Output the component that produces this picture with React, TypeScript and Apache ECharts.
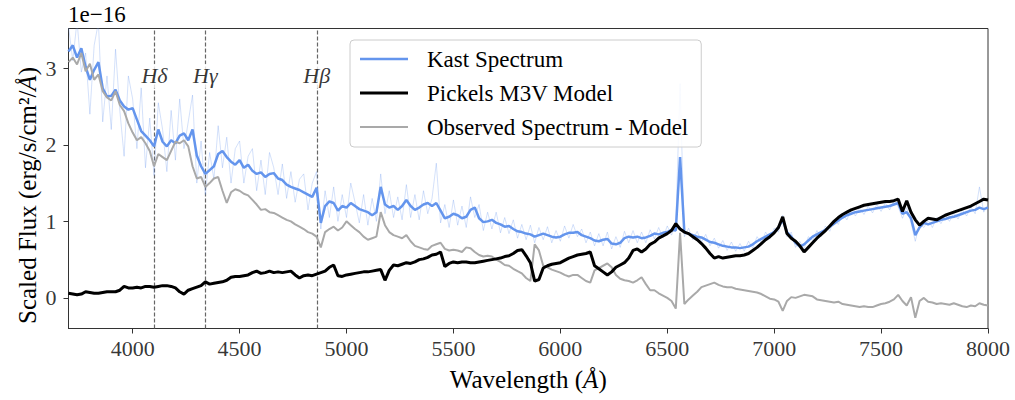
import React, { useEffect, useRef } from "react";
import * as echarts from "echarts";

// Wavelength sampling of the spectra (Angstrom)
const WAVE_START = 3700;
const WAVE_STEP = 20;

// Kast spectrum, smoothed (units of 1e-16 erg/s/cm^2/A)
const kastSmooth = [
  3.22, 3.30, 3.14, 3.26, 3.02, 2.85, 2.98, 3.08, 2.74, 2.63,
  2.64, 2.72, 2.58, 2.50, 2.46, 2.48, 2.33, 2.18, 2.12, 2.06,
  1.98, 2.20, 2.04, 1.98, 2.06, 2.02, 2.12, 2.15, 2.06, 2.20,
  1.86, 1.72, 1.62, 1.67, 1.72, 1.88, 1.92, 1.84, 1.78, 1.74,
  1.80, 1.70, 1.74, 1.66, 1.62, 1.64, 1.58, 1.62, 1.63, 1.56,
  1.54, 1.48, 1.45, 1.43, 1.41, 1.38, 1.35, 1.32, 1.44, 0.98,
  1.20, 1.26, 1.24, 1.14, 1.20, 1.18, 1.24, 1.20, 1.16, 1.14,
  1.12, 1.08, 1.12, 1.45, 1.22, 1.18, 1.20, 1.15, 1.20, 1.28,
  1.20, 1.15, 1.18, 1.22, 1.24, 1.20, 1.24, 1.14, 1.04, 1.06,
  1.10, 1.08, 1.04, 1.06, 1.15, 1.18, 1.04, 0.99, 1.00, 1.02,
  0.98, 0.96, 0.93, 0.94, 0.90, 0.87, 0.86, 0.84, 0.83, 0.80,
  0.82, 0.84, 0.82, 0.80, 0.79, 0.80, 0.83, 0.85, 0.85, 0.86,
  0.82, 0.80, 0.78, 0.75, 0.74, 0.76, 0.77, 0.71, 0.70, 0.72,
  0.78, 0.80, 0.79, 0.80, 0.78, 0.79, 0.81, 0.84, 0.83, 0.85,
  0.86, 0.89, 0.88, 1.84, 0.86, 0.84, 0.82, 0.80, 0.79, 0.76,
  0.73, 0.72, 0.70, 0.68, 0.67, 0.66, 0.66, 0.65, 0.66, 0.67,
  0.70, 0.74, 0.77, 0.80, 0.83, 0.86, 0.92, 1.02, 0.86, 0.80,
  0.72, 0.67, 0.70, 0.75, 0.80, 0.83, 0.86, 0.89, 0.93, 0.97,
  1.01, 1.05, 1.08, 1.10, 1.12, 1.13, 1.14, 1.15, 1.16, 1.17,
  1.18, 1.19, 1.20, 1.22, 1.24, 1.10, 1.12, 1.04, 0.82, 0.92,
  0.98, 0.96, 0.98, 1.00, 1.02, 1.03, 1.05, 1.06, 1.08, 1.10,
  1.12, 1.14, 1.15, 1.18, 1.16, 1.18,
];

// Kast spectrum, unsmoothed (faint)
const kastRaw = [
  3.55, 3.10, 3.62, 2.95, 3.20, 2.40, 3.30, 3.60, 2.30, 2.90,
  2.20, 3.25, 2.45, 1.85, 2.90, 2.60, 1.95, 2.75, 1.70, 2.35,
  1.60, 2.55, 2.20, 1.65, 2.45, 1.80, 2.60, 1.95, 2.30, 2.65,
  1.50, 2.05, 1.35, 1.90, 1.55, 2.25, 1.70, 2.10, 1.50, 1.95,
  2.05, 1.50, 1.85, 1.95, 1.40, 1.80, 1.35, 1.90, 1.70, 1.35,
  1.75, 1.30, 1.65, 1.25, 1.55, 1.62, 1.15, 1.50, 1.65, 0.90,
  1.40, 1.05, 1.45, 1.00, 1.35, 1.05, 1.50, 1.25, 0.98, 1.35,
  0.95, 1.30, 1.00, 1.62, 1.10, 1.40, 1.05, 1.32, 1.02, 1.48,
  1.05, 1.35, 1.02, 1.40, 1.10, 1.30, 1.76, 0.98, 1.22, 0.92,
  1.28, 0.95, 1.20, 0.92, 1.32, 1.05, 1.22, 0.88, 1.12, 0.90,
  1.12, 0.85, 1.05, 0.84, 1.02, 0.78, 0.96, 0.76, 0.95, 0.72,
  0.92, 0.76, 0.93, 0.72, 0.88, 0.74, 0.94, 0.78, 0.96, 0.80,
  0.90, 0.72, 0.86, 0.68, 0.84, 0.68, 0.86, 0.64, 0.80, 0.66,
  0.87, 0.72, 0.88, 0.72, 0.86, 0.72, 0.89, 0.77, 0.92, 0.78,
  0.94, 0.82, 0.96, 2.80, 0.80, 0.91, 0.76, 0.87, 0.73, 0.83,
  0.68, 0.78, 0.65, 0.75, 0.62, 0.73, 0.61, 0.71, 0.61, 0.74,
  0.65, 0.80, 0.72, 0.86, 0.78, 0.91, 0.86, 1.08, 0.80, 0.86,
  0.66, 0.74, 0.64, 0.80, 0.75, 0.88, 0.80, 0.94, 0.87, 1.02,
  0.96, 1.10, 1.02, 1.15, 1.07, 1.18, 1.09, 1.20, 1.11, 1.22,
  1.13, 1.24, 1.15, 1.27, 1.19, 1.04, 1.18, 0.98, 0.74, 0.97,
  0.92, 1.01, 0.92, 1.05, 0.97, 1.08, 1.00, 1.11, 1.03, 1.15,
  1.07, 1.19, 1.10, 1.45, 1.12, 1.22,
];

// Pickels M3V model
const pickelsModel = [
  0.06, 0.05, 0.04, 0.05, 0.08, 0.07, 0.06, 0.06, 0.07, 0.08,
  0.08, 0.08, 0.10, 0.15, 0.13, 0.13, 0.14, 0.13, 0.15, 0.15,
  0.14, 0.15, 0.16, 0.16, 0.15, 0.13, 0.08, 0.05, 0.10, 0.12,
  0.14, 0.16, 0.21, 0.18, 0.19, 0.20, 0.21, 0.23, 0.27, 0.28,
  0.28, 0.29, 0.30, 0.33, 0.35, 0.32, 0.33, 0.35, 0.33, 0.34,
  0.33, 0.34, 0.35, 0.30, 0.26, 0.29, 0.30, 0.29, 0.31, 0.33,
  0.35, 0.40, 0.43, 0.29, 0.28, 0.30, 0.31, 0.32, 0.33, 0.34,
  0.34, 0.35, 0.36, 0.37, 0.23, 0.36, 0.43, 0.42, 0.44, 0.46,
  0.45, 0.47, 0.50, 0.51, 0.53, 0.56, 0.57, 0.60, 0.41, 0.45,
  0.47, 0.46, 0.47, 0.47, 0.46, 0.46, 0.47, 0.48, 0.49, 0.50,
  0.51, 0.52, 0.54, 0.55, 0.58, 0.62, 0.63, 0.55, 0.46, 0.22,
  0.24, 0.39, 0.42, 0.44, 0.45, 0.46, 0.49, 0.52, 0.54, 0.56,
  0.57, 0.58, 0.60, 0.42, 0.38, 0.34, 0.30, 0.34, 0.40, 0.43,
  0.46, 0.52, 0.62, 0.64, 0.60, 0.64, 0.70, 0.73, 0.78, 0.81,
  0.84, 0.88, 0.97, 0.90, 0.86, 0.84, 0.80, 0.76, 0.71, 0.65,
  0.58, 0.52, 0.54, 0.52, 0.53, 0.54, 0.55, 0.55, 0.56, 0.58,
  0.62, 0.66, 0.71, 0.76, 0.80, 0.85, 0.92, 1.06, 0.84, 0.78,
  0.74, 0.68, 0.60, 0.66, 0.72, 0.78, 0.83, 0.88, 0.94, 1.00,
  1.05, 1.09, 1.12, 1.15, 1.17, 1.19, 1.21, 1.22, 1.23, 1.24,
  1.25, 1.26, 1.26, 1.27, 1.29, 1.13, 1.27, 1.12, 1.02, 0.95,
  1.00, 1.04, 1.03, 1.02, 1.05, 1.08, 1.10, 1.12, 1.14, 1.16,
  1.18, 1.20, 1.23, 1.26, 1.29, 1.28,
];

// Observed spectrum minus model
const residual = [
  3.08, 3.14, 3.05, 3.20, 2.96, 3.06, 2.85, 2.92, 2.70, 2.62,
  2.58, 2.70, 2.52, 2.44, 2.28, 2.16, 2.06, 2.10, 2.02, 1.92,
  1.72, 1.88, 1.84, 1.80, 1.92, 2.04, 2.02, 2.06, 1.98, 1.72,
  1.56, 1.58, 1.45, 1.50, 1.56, 1.58, 1.40, 1.24, 1.38, 1.42,
  1.40, 1.36, 1.34, 1.28, 1.22, 1.15, 1.16, 1.12, 1.11, 1.08,
  1.05, 1.02, 1.00, 0.96, 0.93, 0.90, 0.86, 0.84, 0.80, 0.66,
  0.86, 0.90, 0.93, 0.88, 0.92, 1.00, 0.95, 0.90, 0.86, 0.80,
  0.76, 0.78, 0.80, 1.12, 0.95, 0.86, 0.82, 0.80, 0.78, 0.82,
  0.74, 0.68, 0.66, 0.64, 0.63, 0.68, 0.70, 0.72, 0.64, 0.62,
  0.63, 0.62, 0.60, 0.66, 0.65, 0.60, 0.56, 0.54, 0.55, 0.54,
  0.50, 0.47, 0.43, 0.42, 0.38, 0.35, 0.32, 0.26, 0.22, 0.70,
  0.62, 0.42, 0.40, 0.37, 0.35, 0.33, 0.30, 0.28, 0.30, 0.30,
  0.26, 0.22, 0.20, 0.36, 0.39, 0.42, 0.45, 0.40, 0.30, 0.25,
  0.23, 0.22, 0.20, 0.23, 0.27, 0.18, 0.10, 0.10, 0.06, 0.03,
  0.00, -0.04, -0.14, 0.85, -0.08, -0.02, 0.03, 0.08, 0.14, 0.16,
  0.18, 0.20, 0.17, 0.15, 0.14, 0.14, 0.12, 0.11, 0.10, 0.09,
  0.08, 0.07, 0.05, 0.02, -0.01, -0.02, -0.05, -0.17, -0.04, 0.01,
  0.00, 0.02, 0.04, 0.03, 0.02, -0.02, -0.03, -0.04, -0.05, -0.06,
  -0.05, -0.08, -0.09, -0.10, -0.11, -0.12, -0.11, -0.12, -0.12, -0.10,
  -0.08, -0.07, -0.05, -0.02, 0.04, -0.04, -0.10, 0.01, -0.26, -0.04,
  0.00, -0.05, -0.06, -0.08, -0.07, -0.08, -0.09, -0.07, -0.09, -0.11,
  -0.12, -0.10, -0.11, -0.07, -0.09, -0.10,
];

// Balmer lines
const lineNames = ["Hδ", "Hγ", "Hβ"];
const lineWaves = [4102, 4340, 4861];
const lineLabelLevel = 2.9;

// Axis ranges and ticks
const X_MIN = 3700;
const X_MAX = 8000;
const Y_MIN = -0.4;
const Y_MAX = 3.52;
const xTicks = [4000, 4500, 5000, 5500, 6000, 6500, 7000, 7500, 8000];
const yTicks = [0, 1, 2, 3];

const SERIF = "Liberation Serif";

const toPairs = (vals: number[]) =>
  vals.map((v, i) => [WAVE_START + i * WAVE_STEP, v]);

export default function App() {
  const ref = useRef<HTMLDivElement>(null);

  useEffect(() => {
    if (!ref.current) return;
    const chart = echarts.init(ref.current, null, { renderer: "svg" });
    const tickLabelStyle = {
      show: true,
      fontFamily: SERIF,
      fontSize: 22,
      color: "#000",
    };
    const option: any = {
      animation: false,
      textStyle: { fontFamily: SERIF, color: "#000" },
      grid: {
        left: 68.5,
        right: 27,
        top: 28.5,
        bottom: 71.5,
        show: true,
        borderColor: "#333",
        borderWidth: 1,
        backgroundColor: "transparent",
      },
      legend: {
        orient: "vertical",
        left: 350,
        top: 40,
        padding: [7, 13, 8, 10],
        itemWidth: 48,
        itemHeight: 14,
        itemGap: 10,
        backgroundColor: "rgba(255,255,255,0.85)",
        borderColor: "#ccc",
        borderWidth: 1,
        borderRadius: 4,
        textStyle: {
          fontFamily: SERIF,
          fontSize: 23,
          color: "#000",
          lineHeight: 24,
          padding: [0, 0, 0, 14],
        },
        data: [
          { name: "Kast Spectrum", icon: "path://M0,0H48V2.4H0Z" },
          { name: "Pickels M3V Model", icon: "path://M0,0H48V3H0Z" },
          { name: "Observed Spectrum - Model", icon: "path://M0,0H48V1.8H0Z" },
        ],
      },
      xAxis: {
        type: "value",
        min: X_MIN,
        max: X_MAX,
        name: "Wavelength ({it|Å})",
        nameLocation: "middle",
        nameGap: 38,
        nameTextStyle: {
          fontFamily: SERIF,
          fontSize: 25,
          color: "#000",
          rich: {
            it: { fontFamily: SERIF, fontSize: 25, fontStyle: "italic", color: "#000" },
          },
        },
        axisLine: { show: true, onZero: false, lineStyle: { color: "#333", width: 1 } },
        axisTick: {
          show: true,
          length: 5,
          inside: false,
          customValues: xTicks,
          lineStyle: { color: "#333" },
        },
        axisLabel: { show: false },
        splitLine: { show: false },
      },
      yAxis: {
        type: "value",
        min: Y_MIN,
        max: Y_MAX,
        name: "Scaled Flux (erg/s/cm²/{it|Å})",
        nameLocation: "middle",
        nameGap: 29,
        nameTextStyle: {
          fontFamily: SERIF,
          fontSize: 25,
          color: "#000",
          padding: [0, 34, 0, 0],
          rich: {
            it: { fontFamily: SERIF, fontSize: 25, fontStyle: "italic", color: "#000" },
          },
        },
        axisLine: { show: true, onZero: false, lineStyle: { color: "#333", width: 1 } },
        axisTick: {
          show: true,
          length: 5,
          inside: false,
          customValues: yTicks,
          lineStyle: { color: "#333" },
        },
        axisLabel: { show: false },
        splitLine: { show: false },
      },
      graphic: [
        {
          type: "text",
          left: 68,
          top: 3,
          style: {
            text: "1e−16",
            font: `23px "${SERIF}"`,
            fill: "#000",
          },
        },
      ],
      series: [
        {
          name: "Kast raw",
          type: "line",
          data: toPairs(kastRaw),
          symbol: "none",
          lineStyle: { color: "rgba(100,149,237,0.28)", width: 1 },
          itemStyle: { color: "rgba(100,149,237,0.28)" },
          z: 1,
          silent: true,
        },
        {
          name: "Kast Spectrum",
          type: "line",
          data: toPairs(kastSmooth),
          symbol: "none",
          lineStyle: { color: "#6495ED", width: 2.5 },
          itemStyle: { color: "#6495ED" },
          z: 2,
        },
        {
          name: "Observed Spectrum - Model",
          type: "line",
          data: toPairs(residual),
          symbol: "none",
          lineStyle: { color: "#a9a9a9", width: 2 },
          itemStyle: { color: "#a9a9a9" },
          z: 3,
        },
        {
          name: "Pickels M3V Model",
          type: "line",
          data: toPairs(pickelsModel),
          symbol: "none",
          lineStyle: { color: "#000", width: 3 },
          itemStyle: { color: "#000" },
          z: 4,
        },
        {
          name: "Balmer",
          type: "scatter",
          data: lineWaves.map((w, i) => [w, lineLabelLevel, lineNames[i]]),
          symbolSize: 0,
          silent: true,
          z: 5,
          label: {
            show: true,
            position: "inside",
            formatter: (p: any) => p.value[2],
            fontFamily: SERIF,
            fontStyle: "italic",
            fontSize: 22,
            color: "#000",
            backgroundColor: "#fff",
            padding: [1, 1, 1, 1],
          },
          markLine: {
            silent: true,
            symbol: "none",
            label: { show: false },
            lineStyle: { color: "#666", type: [4, 2], width: 1.2 },
            data: lineWaves.map((w) => ({ xAxis: w })),
            z: 1,
          },
        },
        {
          name: "x tick labels",
          type: "scatter",
          data: xTicks.map((t) => [t, Y_MIN]),
          symbolSize: 0,
          silent: true,
          clip: false,
          label: {
            ...tickLabelStyle,
            position: "bottom",
            distance: 9,
            formatter: (p: any) => String(p.value[0]),
          },
        },
        {
          name: "y tick labels",
          type: "scatter",
          data: yTicks.map((t) => [X_MIN, t]),
          symbolSize: 0,
          silent: true,
          clip: false,
          label: {
            ...tickLabelStyle,
            position: "left",
            distance: 12,
            formatter: (p: any) => String(p.value[1]),
          },
        },
      ],
    };
    chart.setOption(option);
    return () => chart.dispose();
  }, []);

  return (
    <div
      ref={ref}
      style={{ position: "fixed", left: 0, top: 0, width: 1015, height: 400, background: "#fff" }}
    />
  );
}
